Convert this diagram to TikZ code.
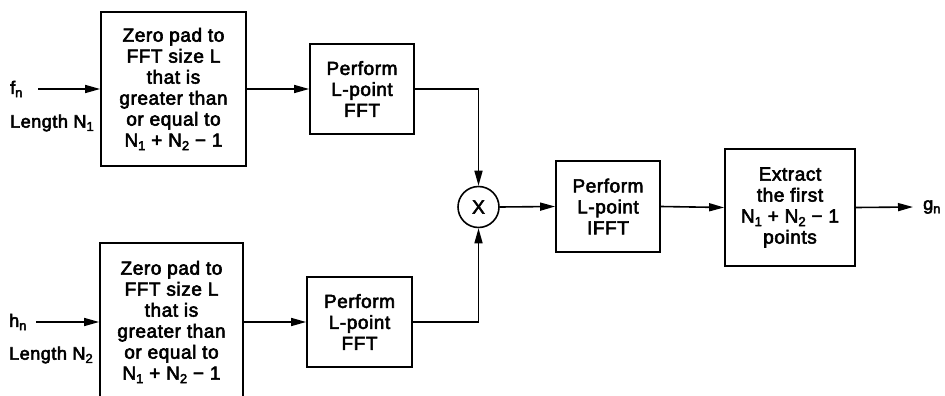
\documentclass[tikz,border=0pt]{standalone}
\usepackage{fontspec}
\setmainfont{Liberation Sans}[FakeBold=3,LetterSpace=3]
\usetikzlibrary{arrows.meta}
\newcommand{\lowsub}[1]{\raisebox{-0.35ex}{\fontsize{13}{13}\selectfont #1}}
\begin{document}
\begin{tikzpicture}[x=1pt,y=-1pt,
  blk/.style={draw,line width=1.8pt,inner sep=0pt,align=center,
    font=\fontsize{19}{21}\selectfont},
  lbl/.style={inner sep=0pt,font=\fontsize{18}{21}\selectfont},
  conn/.style={line width=1.6pt,-{Triangle[length=15pt,width=8pt]}}]
\useasboundingbox (0,0) rectangle (945,396);

% input padding blocks
\node[blk,minimum width=145pt,minimum height=154pt] (padf) at (173.5,89)
  {Zero pad to\\FFT size L\\that is\\greater than\\or equal to\\
   N\lowsub{1} + N\lowsub{2} − 1};
\node[blk,minimum width=143pt,minimum height=158pt] (padh) at (171.5,322)
  {Zero pad to\\FFT size L\\that is\\greater than\\or equal to\\
   N\lowsub{1} + N\lowsub{2} − 1};

% forward transforms
\node[blk,minimum width=104pt,minimum height=90pt] (fftf) at (362,89)
  {Perform\\L-point\\FFT};
\node[blk,minimum width=105pt,minimum height=90pt] (ffth) at (359.5,322)
  {Perform\\L-point\\FFT};

% multiplier
\node[draw,circle,line width=1.6pt,minimum size=41pt,inner sep=0pt,
  font=\fontsize{19}{21}\selectfont] (mul) at (478.5,207) {X};

% inverse transform and extraction
\node[blk,minimum width=104pt,minimum height=91pt] (ifft) at (608,206.5)
  {Perform\\L-point\\IFFT};
\node[blk,minimum width=130pt,minimum height=117pt] (extr) at (790,207.5)
  {Extract\\the first\\N\lowsub{1} + N\lowsub{2} − 1\\points};

% signal labels
\node[lbl,anchor=west] (fn) at (10,89) {f\lowsub{n}};
\node[lbl,anchor=west] (lenf) at (10,123) {Length N\lowsub{1}};
\node[lbl,anchor=west] (hn) at (9,322) {h\lowsub{n}};
\node[lbl,anchor=west] (lenh) at (9,355) {Length N\lowsub{2}};
\node[lbl,anchor=west] (gn) at (923,207) {g\lowsub{n}};

\coordinate (fin) at (38,89);
\coordinate (hin) at (36,322);
\coordinate (gout) at (913,207);

% connectors
\draw[conn] (fin) -- (padf.west);
\draw[conn] (hin) -- (padh.west);
\draw[conn] (padf.east) -- (fftf.west);
\draw[conn] (padh.east) -- (ffth.west);
\draw[conn] (fftf.east) -| (mul.north);
\draw[conn] (ffth.east) -| (mul.south);
\draw[conn] (mul.east) -- (ifft.west);
\draw[conn] (ifft.east) -- (extr.west);
\draw[conn] (extr.east) -- (gout);
\end{tikzpicture}
\end{document}
